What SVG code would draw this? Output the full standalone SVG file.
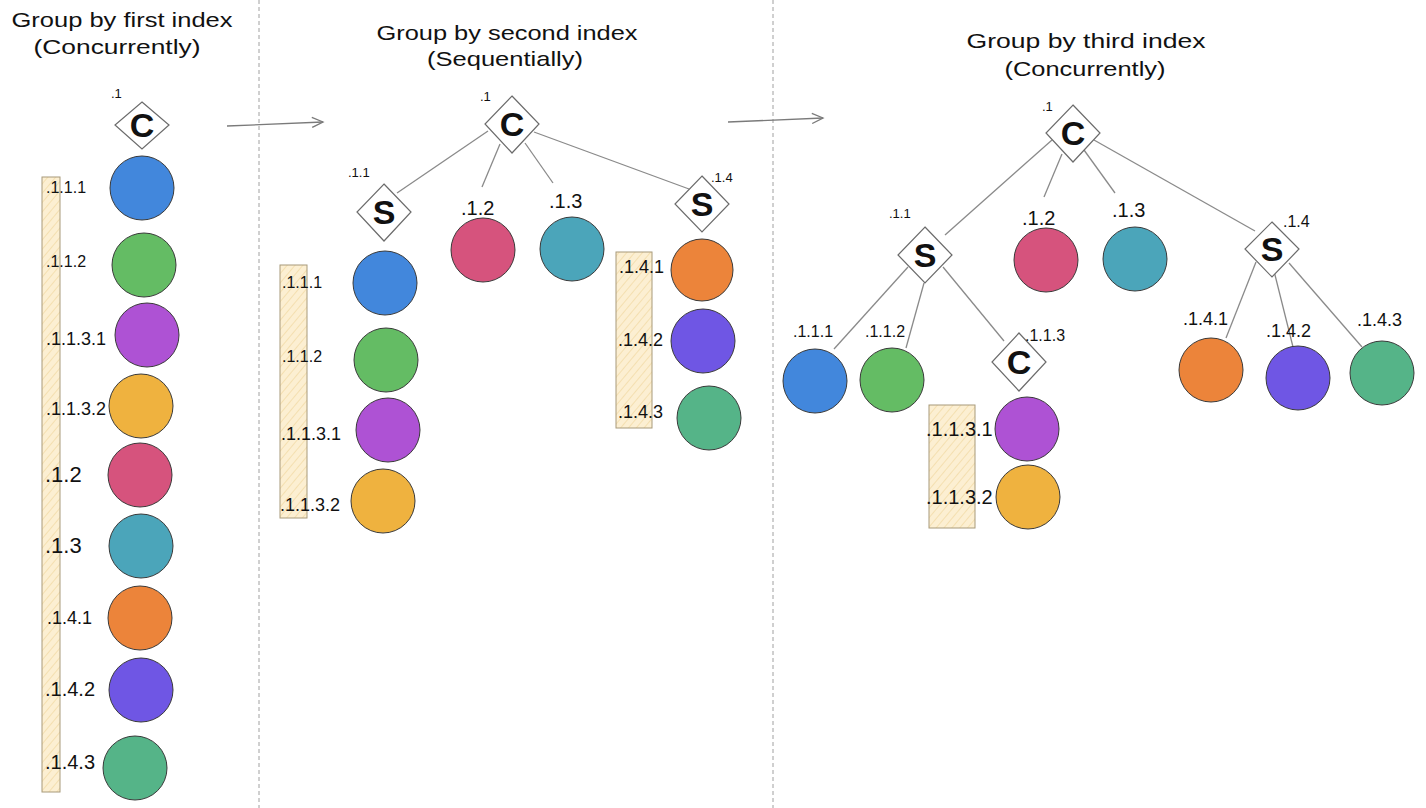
<svg xmlns="http://www.w3.org/2000/svg" width="1426" height="808" viewBox="0 0 1426 808">
  <style>
    text { font-family: "Liberation Sans", "DejaVu Sans", sans-serif; fill: #111; }
    .title { font-size: 21px; text-anchor: middle; }
    .lbl { font-size: 18px; }
    .lbl-s { font-size: 13px; }
    .lbl-m { font-size: 16px; }
    .lbl-l { font-size: 20px; }
    .lbl-xl { font-size: 22px; }
    .glyph { font-size: 34px; font-weight: bold; text-anchor: middle; }
    .dot { stroke: #3a3a3a; stroke-width: 1; }
    .dia { fill: #ffffff; stroke: #6b6b6b; stroke-width: 1.2; }
    .band { fill: url(#hachure); stroke: #a89a7a; stroke-width: 1; }
    .edge { stroke: #8a8a8a; stroke-width: 1.3; fill: none; }
    .divider { stroke: #a0a0a0; stroke-width: 1; stroke-dasharray: 4 3; }
    .flow { stroke: #7a7a7a; stroke-width: 1.3; fill: none; marker-end: url(#chevron); }
    .c-blue { fill: #4287dc; }
    .c-green { fill: #64bc64; }
    .c-purple { fill: #ae52d4; }
    .c-yellow { fill: #efb23f; }
    .c-pink { fill: #d6537d; }
    .c-teal { fill: #4ba5ba; }
    .c-orange { fill: #ec843a; }
    .c-violet { fill: #6f56e4; }
    .c-sea { fill: #55b488; }
  </style>
  <defs>
    <pattern id="hachure" patternUnits="userSpaceOnUse" width="6" height="6" patternTransform="rotate(40)">
      <rect width="6" height="6" fill="#fcefd2"/>
      <line x1="0" y1="0" x2="0" y2="6" stroke="#f3dca8" stroke-width="1.6"/>
    </pattern>
    <marker id="chevron" markerWidth="14" markerHeight="12" refX="12" refY="6" orient="auto" markerUnits="userSpaceOnUse">
      <path d="M1,1 L12,6 L1,11" fill="none" stroke="#7a7a7a" stroke-width="1.3"/>
    </marker>
  </defs>

  <rect width="1426" height="808" fill="#ffffff"/>

  <!-- section dividers -->
  <g id="dividers">
    <line class="divider" x1="259" y1="0" x2="259" y2="808"/>
    <line class="divider" x1="773" y1="0" x2="773" y2="808"/>
  </g>

  <!-- titles -->
  <g id="titles">
    <text class="title" x="122" y="27" textLength="221" lengthAdjust="spacingAndGlyphs">Group by first index</text>
    <text class="title" x="117" y="54" textLength="167" lengthAdjust="spacingAndGlyphs">(Concurrently)</text>
    <text class="title" x="507" y="40" textLength="261" lengthAdjust="spacingAndGlyphs">Group by second index</text>
    <text class="title" x="505" y="66" textLength="156" lengthAdjust="spacingAndGlyphs">(Sequentially)</text>
    <text class="title" x="1086" y="48" textLength="239" lengthAdjust="spacingAndGlyphs">Group by third index</text>
    <text class="title" x="1085" y="76" textLength="161" lengthAdjust="spacingAndGlyphs">(Concurrently)</text>
  </g>

  <!-- connectors -->
  <g id="connectors">
    <line class="flow" x1="227" y1="126" x2="323" y2="122"/>
    <line class="flow" x1="728" y1="122" x2="823" y2="118"/>
    <!-- second-index tree -->
    <line class="edge" x1="488" y1="131" x2="397" y2="193"/>
    <line class="edge" x1="500" y1="144" x2="482" y2="187"/>
    <line class="edge" x1="525" y1="143" x2="553" y2="183"/>
    <line class="edge" x1="534" y1="132" x2="689" y2="189"/>
    <!-- third-index tree -->
    <line class="edge" x1="1052" y1="140" x2="945" y2="235"/>
    <line class="edge" x1="1062" y1="154" x2="1044" y2="197"/>
    <line class="edge" x1="1084" y1="150" x2="1115" y2="193"/>
    <line class="edge" x1="1094" y1="140" x2="1255" y2="231"/>
    <line class="edge" x1="908" y1="267" x2="834" y2="349"/>
    <line class="edge" x1="924" y1="283" x2="906" y2="348"/>
    <line class="edge" x1="943" y1="267" x2="1004" y2="341"/>
    <line class="edge" x1="1256" y1="262" x2="1226" y2="338"/>
    <line class="edge" x1="1273" y1="267" x2="1293" y2="347"/>
    <line class="edge" x1="1289" y1="263" x2="1362" y2="347"/>
  </g>

  <!-- ===== first index ===== -->
  <g id="p1-band"><rect class="band" x="42" y="177" width="18" height="615"/></g>
  <g id="p1-root">
    <polygon class="dia" points="142,102 169,125 142,149 115,125"/>
    <text class="glyph" x="142" y="137">C</text>
    <text class="lbl-s" x="111" y="98">.1</text>
  </g>
  <g id="p1-111"><circle class="dot c-blue" cx="142" cy="188" r="32"/><text class="lbl-m" x="46" y="193">.1.1.1</text></g>
  <g id="p1-112"><circle class="dot c-green" cx="144" cy="265" r="32"/><text class="lbl-m" x="46" y="267">.1.1.2</text></g>
  <g id="p1-1131"><circle class="dot c-purple" cx="147" cy="335" r="32"/><text class="lbl" x="46" y="345">.1.1.3.1</text></g>
  <g id="p1-1132"><circle class="dot c-yellow" cx="141" cy="406" r="32"/><text class="lbl" x="46" y="415">.1.1.3.2</text></g>
  <g id="p1-12"><circle class="dot c-pink" cx="140" cy="475" r="32"/><text class="lbl-xl" x="45" y="482">.1.2</text></g>
  <g id="p1-13"><circle class="dot c-teal" cx="141" cy="546" r="32"/><text class="lbl-xl" x="45" y="553">.1.3</text></g>
  <g id="p1-141"><circle class="dot c-orange" cx="140" cy="618" r="32"/><text class="lbl" x="47" y="624">.1.4.1</text></g>
  <g id="p1-142"><circle class="dot c-violet" cx="141" cy="690" r="32"/><text class="lbl-l" x="45" y="696">.1.4.2</text></g>
  <g id="p1-143"><circle class="dot c-sea" cx="135" cy="768" r="32"/><text class="lbl-l" x="45" y="769">.1.4.3</text></g>

  <!-- ===== second index ===== -->
  <g id="p2-root">
    <polygon class="dia" points="512,96 539,124 512,153 485,124"/>
    <text class="glyph" x="512" y="136">C</text>
    <text class="lbl-s" x="480" y="101">.1</text>
  </g>
  <g id="p2-11">
    <polygon class="dia" points="384,184 411,212 384,241 357,212"/>
    <text class="glyph" x="384" y="224">S</text>
    <text class="lbl-s" x="348" y="177">.1.1</text>
  </g>
  <g id="p2-12"><circle class="dot c-pink" cx="483" cy="250" r="32"/><text class="lbl-l" x="461" y="215">.1.2</text></g>
  <g id="p2-13"><circle class="dot c-teal" cx="572" cy="249" r="32"/><text class="lbl-l" x="549" y="208">.1.3</text></g>
  <g id="p2-14">
    <polygon class="dia" points="702,176 729,204 702,232 675,204"/>
    <text class="glyph" x="702" y="216">S</text>
    <text class="lbl-s" x="711" y="182">.1.4</text>
  </g>
  <g id="p2-band-a"><rect class="band" x="280" y="265" width="27" height="253"/></g>
  <g id="p2-111"><circle class="dot c-blue" cx="385" cy="283" r="32"/><text class="lbl-m" x="282" y="288">.1.1.1</text></g>
  <g id="p2-112"><circle class="dot c-green" cx="386" cy="360" r="32"/><text class="lbl-m" x="282" y="362">.1.1.2</text></g>
  <g id="p2-1131"><circle class="dot c-purple" cx="388" cy="430" r="32"/><text class="lbl" x="281" y="440">.1.1.3.1</text></g>
  <g id="p2-1132"><circle class="dot c-yellow" cx="383" cy="501" r="32"/><text class="lbl" x="280" y="511">.1.1.3.2</text></g>
  <g id="p2-band-b"><rect class="band" x="616" y="252" width="36" height="176"/></g>
  <g id="p2-141"><circle class="dot c-orange" cx="702" cy="270" r="31"/><text class="lbl" x="619" y="273">.1.4.1</text></g>
  <g id="p2-142"><circle class="dot c-violet" cx="703" cy="341" r="32"/><text class="lbl" x="618" y="346">.1.4.2</text></g>
  <g id="p2-143"><circle class="dot c-sea" cx="709" cy="418" r="32"/><text class="lbl" x="618" y="418">.1.4.3</text></g>

  <!-- ===== third index ===== -->
  <g id="p3-root">
    <polygon class="dia" points="1073,105 1100,133 1073,162 1046,133"/>
    <text class="glyph" x="1073" y="145">C</text>
    <text class="lbl-s" x="1042" y="111">.1</text>
  </g>
  <g id="p3-11">
    <polygon class="dia" points="925,227 952,255 925,283 898,255"/>
    <text class="glyph" x="925" y="267">S</text>
    <text class="lbl-s" x="889" y="218">.1.1</text>
  </g>
  <g id="p3-12"><circle class="dot c-pink" cx="1046" cy="260" r="32"/><text class="lbl-l" x="1022" y="225">.1.2</text></g>
  <g id="p3-13"><circle class="dot c-teal" cx="1135" cy="259" r="32"/><text class="lbl-l" x="1112" y="217">.1.3</text></g>
  <g id="p3-14">
    <polygon class="dia" points="1272,222 1299,249 1272,277 1245,249"/>
    <text class="glyph" x="1272" y="261">S</text>
    <text class="lbl-m" x="1283" y="227">.1.4</text>
  </g>
  <g id="p3-111"><circle class="dot c-blue" cx="815" cy="381" r="32"/><text class="lbl-m" x="793" y="337">.1.1.1</text></g>
  <g id="p3-112"><circle class="dot c-green" cx="892" cy="380" r="32"/><text class="lbl-m" x="865" y="337">.1.1.2</text></g>
  <g id="p3-113">
    <polygon class="dia" points="1019,333 1046,362 1019,391 992,362"/>
    <text class="glyph" x="1019" y="374">C</text>
    <text class="lbl-m" x="1025" y="341">.1.1.3</text>
  </g>
  <g id="p3-band"><rect class="band" x="929" y="405" width="46" height="123"/></g>
  <g id="p3-1131"><circle class="dot c-purple" cx="1027" cy="429" r="32"/><text class="lbl-l" x="926" y="436">.1.1.3.1</text></g>
  <g id="p3-1132"><circle class="dot c-yellow" cx="1028" cy="497" r="32"/><text class="lbl-l" x="926" y="504">.1.1.3.2</text></g>
  <g id="p3-141"><circle class="dot c-orange" cx="1211" cy="370" r="32"/><text class="lbl" x="1183" y="325">.1.4.1</text></g>
  <g id="p3-142"><circle class="dot c-violet" cx="1298" cy="378" r="32"/><text class="lbl" x="1266" y="337">.1.4.2</text></g>
  <g id="p3-143"><circle class="dot c-sea" cx="1382" cy="373" r="32"/><text class="lbl" x="1357" y="326">.1.4.3</text></g>
</svg>
